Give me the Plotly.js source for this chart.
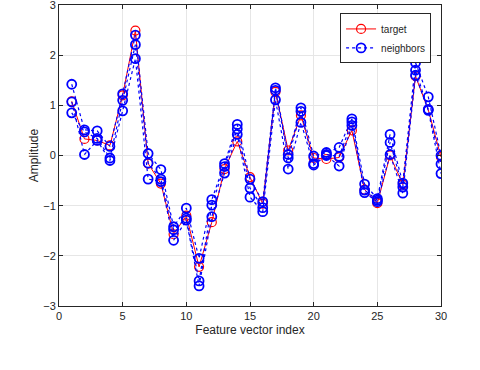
<!DOCTYPE html>
<html>
<head>
<meta charset="utf-8">
<script src="https://cdn.plot.ly/plotly-3.0.1.min.js"></script>
<style>
  html, body { margin: 0; padding: 0; background: #fff; }
  #plot { width: 480px; height: 370px; }
</style>
</head>
<body>
<div id="plot"></div>
<script>
// feature index 1..30
const featureIndex = [1, 2, 3, 4, 5, 6, 7, 8, 9, 10, 11, 12, 13, 14, 15,
  16, 17, 18, 19, 20, 21, 22, 23, 24, 25, 26, 27, 28, 29, 30];

const target = [1.08, 0.33, 0.30, 0.20, 1.20, 2.49, -0.16, -0.56, -1.57, -1.20,
  -2.22, -1.33, -0.27, 0.28, -0.43, -0.96, 1.27, 0.10, 0.80, -0.05,
  -0.07, -0.04, 0.50, -0.68, -0.95, 0.00, -0.58, 1.58, 0.91, -0.03];

const neighbor1 = [1.42, 0.51, 0.49, 0.18, 1.23, 2.40, 0.04, -0.28, -1.42, -1.05,
  -2.05, -0.88, -0.16, 0.62, -0.47, -0.92, 1.35, 0.02, 0.95, -0.01,
  0.06, 0.16, 0.73, -0.57, -0.86, 0.42, -0.55, 1.85, 1.17, 0.00];

const neighbor2 = [0.85, 0.47, 0.34, -0.05, 1.10, 2.21, -0.15, -0.47, -1.48, -1.25,
  -2.50, -0.99, -0.22, 0.53, -0.65, -1.04, 1.30, -0.05, 0.88, -0.16,
  0.02, -0.02, 0.67, -0.69, -0.89, 0.26, -0.63, 1.70, 0.92, -0.17];

const neighbor3 = [1.07, 0.02, 0.30, -0.10, 0.89, 1.93, -0.47, -0.52, -1.69, -1.29,
  -2.60, -1.22, -0.35, 0.42, -0.83, -1.12, 1.11, -0.27, 0.66, -0.19,
  0.00, -0.21, 0.60, -0.74, -0.92, 0.02, -0.75, 1.60, 0.90, -0.36];

const fontFamily = "Liberation Sans, Arial, sans-serif";
const axisColor = "#262626";

function neighborTrace(values, showLegend) {
  return {
    x: featureIndex,
    y: values,
    type: "scatter",
    mode: "lines+markers",
    name: "neighbors",
    legendgroup: "neighbors",
    showlegend: showLegend,
    line: { color: "#0000ff", width: 1.2, dash: "dot" },
    marker: { symbol: "circle-open", size: 9, color: "#0000ff", line: { width: 1.8 } },
  };
}

const targetTrace = {
  x: featureIndex,
  y: target,
  type: "scatter",
  mode: "lines+markers",
  name: "target",
  line: { color: "#ff0000", width: 1 },
  marker: { symbol: "circle-open", size: 9, color: "#ff0000", line: { width: 1.2 } },
};

const traces = [
  targetTrace,
  neighborTrace(neighbor1, true),
  neighborTrace(neighbor2, false),
  neighborTrace(neighbor3, false),
];

const axisCommon = {
  showline: true,
  linecolor: axisColor,
  linewidth: 1,
  mirror: "ticks",
  ticks: "inside",
  ticklen: 4,
  tickcolor: axisColor,
  showgrid: true,
  gridcolor: "#e6e6e6",
  gridwidth: 1,
  zeroline: false,
  ticklabeloverflow: "allow",
  tickfont: { family: fontFamily, size: 11, color: axisColor },
};

const layout = {
  width: 480,
  height: 370,
  margin: { l: 59, r: 39, t: 5, b: 64 },
  paper_bgcolor: "#ffffff",
  plot_bgcolor: "#ffffff",
  font: { family: fontFamily, size: 11, color: axisColor },
  xaxis: Object.assign({}, axisCommon, {
    range: [0, 30],
    tickvals: [0, 5, 10, 15, 20, 25, 30],
    title: { text: "Feature vector index", font: { family: fontFamily, size: 12, color: axisColor }, standoff: 4 },
  }),
  yaxis: Object.assign({}, axisCommon, {
    range: [-3, 3],
    tickvals: [-3, -2, -1, 0, 1, 2, 3],
    title: { text: "Amplitude", font: { family: fontFamily, size: 12, color: axisColor }, standoff: 2 },
  }),
  legend: {
    x: 0.974,
    y: 0.972,
    xanchor: "right",
    yanchor: "top",
    bgcolor: "#ffffff",
    bordercolor: axisColor,
    borderwidth: 1,
    font: { family: fontFamily, size: 10, color: axisColor },
    tracegroupgap: 0,
    itemwidth: 30,
  },
  showlegend: true,
};

Plotly.newPlot("plot", traces, layout, { displayModeBar: false, staticPlot: true });
</script>
</body>
</html>
